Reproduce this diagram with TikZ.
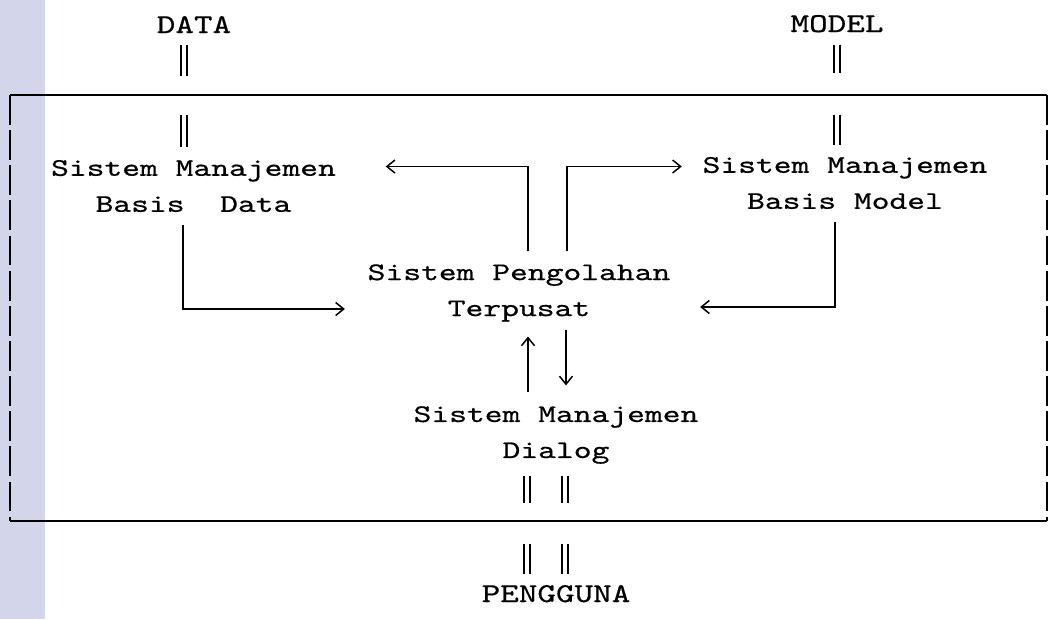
\documentclass[tikz,border=0pt]{standalone}
\usepackage{fontspec}
\usepackage{tikz}
\usetikzlibrary{arrows.meta}
\newfontfamily\blokfont{lmmono10-regular.otf}[FakeStretch=1.34,FakeBold=0.6]
\newfontfamily\labelfont{lmmono10-regular.otf}[FakeStretch=1.3,FakeBold=0.6]
\definecolor{SPKBand}{HTML}{D3D5EA}

\begin{document}
\begin{tikzpicture}[
      x=0.02cm,y=-0.02cm,
      blok/.style={align=center,inner sep=0pt,
        font=\blokfont\fontsize{14.4}{20.5}\selectfont},
      label/.style={anchor=base,inner sep=0pt,
        font=\labelfont\fontsize{15.5}{18}\selectfont},
      flow/.style={-{Straight Barb[length=1.6mm,width=2.6mm]},line width=0.85pt},
      dbar/.style={double,double distance=2.3pt,line width=0.9pt},
      frame/.style={line width=1.1pt},
      side/.style={dash pattern=on 17pt off 3pt}
    ]
    \useasboundingbox (0,0) rectangle (1050,619);
    \fill[SPKBand] (0,0) rectangle (45,619);

    % outer frame of the system
    \draw[frame] (10,95) -- (1047,95);
    \draw[frame] (10,521) -- (1047,521);
    \draw[frame,side] (10,95) -- (10,521);
    \draw[frame,side] (1047,95) -- (1047,521);

    \node[label] (data) at (194,33) {DATA};
    \node[label] (model) at (837,32) {MODEL};
    \node[label] (pengguna) at (556,602) {PENGGUNA};

    \node[blok] (smbd) at (193.5,186) {Sistem Manajemen\\Basis\ \ Data};
    \node[blok] (smbm) at (845,183) {Sistem Manajemen\\Basis Model};
    \node[blok] (spt) at (519,293) {Sistem Pengolahan\\Terpusat};
    \node[blok] (smd) at (556,435) {Sistem Manajemen\\Dialog};

    % double bars through the frame
    \draw[dbar] ([xshift=-2mm,yshift=-2.4mm]data.south) -- ++(0,31)
      ++(0,39) -- ++(0,32);
    \draw[dbar] ([yshift=-2.4mm]model.south) -- ++(0,28)
      ++(0,42) -- ++(0,30);
    \draw[dbar] ([xshift=-5.8mm,yshift=-2.3mm]smd.south) -- ++(0,27)
      ++(0,41) -- ++(0,30);
    \draw[dbar] ([xshift=1.8mm,yshift=-2.3mm]smd.south) -- ++(0,27)
      ++(0,41) -- ++(0,30);

    % flows between the subsystems
    \draw[flow] ([xshift=1.8mm,yshift=2.5mm]spt.north) |- ([xshift=9.9mm,yshift=3.9mm]smbd.east);
    \draw[flow] ([xshift=9.6mm,yshift=2.5mm]spt.north) |- ([xshift=-4.1mm,yshift=3.3mm]smbm.west);
    \draw[flow] ([xshift=-2.1mm,yshift=-2.6mm]smbd.south) |- ([xshift=-4.5mm,yshift=-3.2mm]spt.west);
    \draw[flow] ([xshift=-2mm,yshift=-2.6mm]smbm.south) |- ([xshift=5.9mm,yshift=-2.8mm]spt.east);
    \draw[flow,shorten >=2.9mm] ([xshift=-5.6mm,yshift=2.7mm]smd.north) coordinate (dlgup)
      -- (dlgup |- spt.south);
    \draw[flow,shorten >=4.1mm] ([xshift=9.4mm,yshift=-1.5mm]spt.south) coordinate (dlgdown)
      -- (dlgdown |- smd.north);
\end{tikzpicture}
\end{document}
